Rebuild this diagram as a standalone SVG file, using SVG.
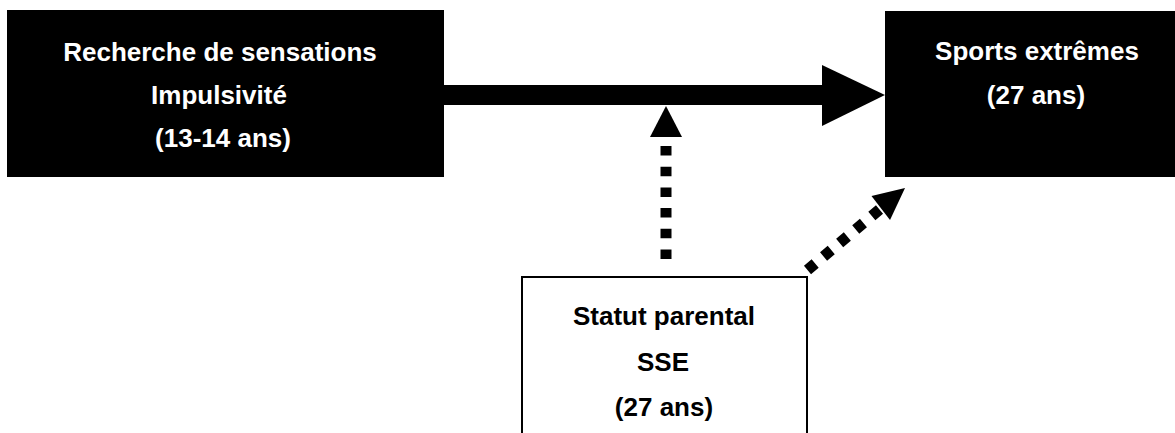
<svg xmlns="http://www.w3.org/2000/svg" width="1175" height="433" viewBox="0 0 1175 433">
  <style>
    .dark { fill: #000; }
    .light { fill: #fff; stroke: #000; stroke-width: 2; }
    .t { font-family: "Liberation Sans", Arial, sans-serif; font-weight: bold; font-size: 26px; text-anchor: middle; }
    .tw { fill: #fff; }
    .tb { fill: #000; }
    .dots { fill: none; stroke: #000; stroke-width: 11; stroke-dasharray: 9.5 11.2; }
    .head { fill: #000; }
  </style>
  <rect width="1175" height="433" fill="#fff"/>
  <g id="connectors">
    <rect x="443" y="85" width="380" height="20" class="dark"/>
    <polygon class="head" points="822,65 885,95 822,126"/>
    <line class="dots" x1="666" y1="146" x2="666" y2="259"/>
    <polygon class="head" points="666,106 682,137 650,137"/>
    <line class="dots" style="stroke-dasharray: 10 11" x1="807.5" y1="270" x2="881" y2="208.3"/>
    <polygon class="head" points="905,188 871.5,196 890,220"/>
  </g>
  <g id="node-recherche">
    <rect x="7" y="10" width="437" height="167" class="dark"/>
    <text class="t tw" x="220" y="61">Recherche de sensations</text>
    <text class="t tw" x="219" y="104">Impulsivité</text>
    <text class="t tw" x="223" y="147">(13-14 ans)</text>
  </g>
  <g id="node-sports">
    <rect x="885" y="11" width="290" height="166" class="dark"/>
    <text class="t tw" x="1037" y="60">Sports extrêmes</text>
    <text class="t tw" x="1036" y="104">(27 ans)</text>
  </g>
  <g id="node-statut">
    <rect x="522" y="277" width="285" height="170" class="light"/>
    <text class="t tb" x="664" y="325">Statut parental</text>
    <text class="t tb" x="663" y="371">SSE</text>
    <text class="t tb" x="664" y="416">(27 ans)</text>
  </g>
</svg>
